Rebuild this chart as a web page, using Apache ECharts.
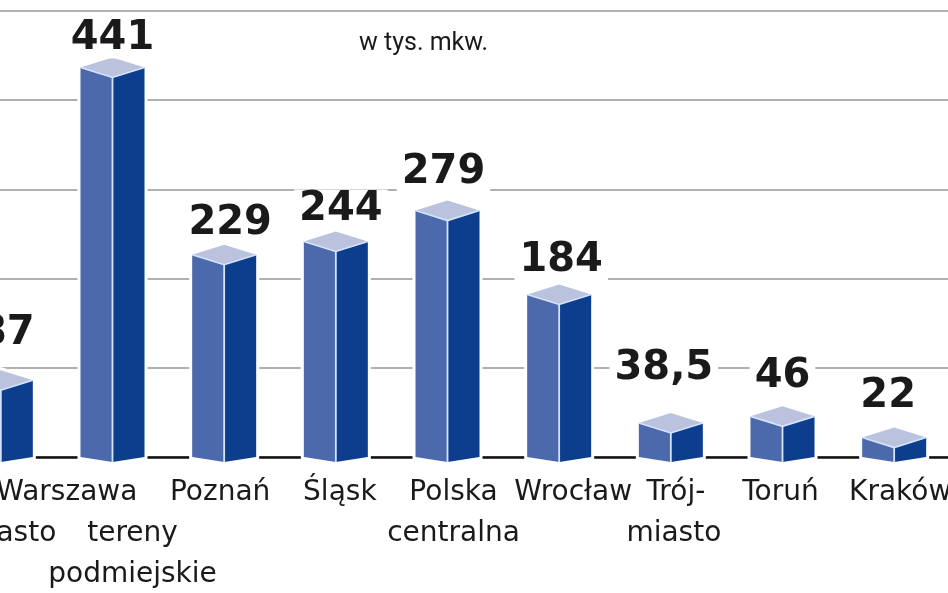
<!DOCTYPE html>
<html>
<head>
<meta charset="utf-8">
<script src="https://cdn.jsdelivr.net/npm/echarts@6/dist/echarts.min.js"></script>
<style>
html,body{margin:0;padding:0;background:#fff;}
#chart{width:948px;height:593px;}
</style>
</head>
<body>
<div id="chart"></div>
<script>
// ---- data ----
const categories = ['Warszawa miasto', 'Warszawa tereny podmiejskie', 'Poznań', 'Śląsk', 'Polska centralna', 'Wrocław', 'Trójmiasto', 'Toruń', 'Kraków'];
const values = [87, 441, 229, 244, 279, 184, 38.5, 46, 22];
const tickLabels = [['Warszawa', 'miasto'], ['', 'tereny', 'podmiejskie'], ['Poznań'], ['Śląsk'], ['Polska', 'centralna'], ['Wrocław'], ['Trój-', 'miasto'], ['Toruń'], ['Kraków']];
const unitLabel = 'w tys. mkw.';

// ---- layout constants (pixel nudges, not data) ----
const lineShift = [[66, 8], [0, 20, 20], [-4], [4], [6, 6], [14], [5, 3], [-2], [6]];
const valueLabelNudge = [[6, -13], [0, 5], [6, 3], [5, 2], [-4, -4], [2, 0], [-7, -20], [0, -6], [-6, -7]];

const rich = {};
function key(s) { return 'p' + (s + 200); }
lineShift.forEach(function (arr) {
  arr.forEach(function (s) {
    rich[key(s)] = {
      fontFamily: 'DejaVu Sans', fontSize: 28, color: '#1a1a1a', lineHeight: 41,
      padding: s >= 0 ? [0, 0, 0, 2 * s] : [0, -2 * s, 0, 0]
    };
  });
});

const chart = echarts.init(document.getElementById('chart'), null, { renderer: 'canvas' });

function fmt(v) { return String(v).replace('.', ','); }

chart.setOption({
  animation: false,
  backgroundColor: '#ffffff',
  title: {
    text: unitLabel, left: 354, top: 26,
    textStyle: { fontFamily: 'Roboto', fontSize: 25, fontWeight: 'normal', color: '#1a1a1a' }
  },
  grid: { left: -55, right: -2, top: 11, bottom: 136, containLabel: false, outerBoundsMode: 'none' },
  xAxis: {
    type: 'category',
    data: categories,
    axisLine: { lineStyle: { color: '#111', width: 2.5 } },
    axisTick: { show: false },
    axisLabel: {
      interval: 0, margin: 15, hideOverlap: false,
      formatter: function (v, i) {
        return tickLabels[i].map(function (t, j) {
          return '{' + key(lineShift[i][j]) + '|' + (t || ' ') + '}';
        }).join('\n');
      },
      rich: rich
    }
  },
  yAxis: {
    type: 'value', min: 0, max: 505, interval: 101,
    axisLabel: { show: false }, axisLine: { show: false }, axisTick: { show: false },
    splitLine: { lineStyle: { color: '#b0b0b0', width: 2 } }
  },
  series: [{
    type: 'custom',
    data: values.map(function (v, i) { return [i, v]; }),
    renderItem: function (params, api) {
      const idx = api.value(0), val = api.value(1);
      const pTop = api.coord([idx, val]);
      const pBot = api.coord([idx, 0]);
      const x = pTop[0], yT = pTop[1], y0 = pBot[1];
      const hw = 32, dt = 10, db = 5;
      const edge = '#d3e4ff';
      const nd = valueLabelNudge[params.dataIndex] || [0, 0];
      return {
        type: 'group',
        children: [
          { type: 'polygon', shape: { points: [[x - hw, yT], [x, yT - dt], [x + hw, yT], [x + hw, y0], [x, y0 + db], [x - hw, y0]] },
            style: { fill: '#ffffff', stroke: '#ffffff', lineWidth: 6 } },
          { type: 'polygon', shape: { points: [[x - hw, yT], [x, yT + dt], [x, y0 + db], [x - hw, y0]] },
            style: { fill: '#4c69ab' } },
          { type: 'polygon', shape: { points: [[x, yT + dt], [x + hw, yT], [x + hw, y0], [x, y0 + db]] },
            style: { fill: '#0c3e8d' } },
          { type: 'polygon', shape: { points: [[x - hw, yT], [x, yT - dt], [x + hw, yT], [x, yT + dt]] },
            style: { fill: '#bac2dd' } },
          { type: 'polyline', shape: { points: [[x - hw, yT], [x, yT + dt], [x + hw, yT]] },
            style: { stroke: edge, lineWidth: 1.6, fill: null } },
          { type: 'line', shape: { x1: x, y1: yT + dt, x2: x, y2: y0 + db },
            style: { stroke: edge, lineWidth: 1.8 } },
          { type: 'text', x: x + nd[0], y: yT - dt - 4 + nd[1],
            style: { text: fmt(val), align: 'center', verticalAlign: 'bottom',
              font: 'bold 40px "DejaVu Sans"', fill: '#1a1a1a',
              backgroundColor: '#ffffff', padding: [0, 5, 0, 5] } }
        ]
      };
    }
  }]
});
</script>
</body>
</html>
